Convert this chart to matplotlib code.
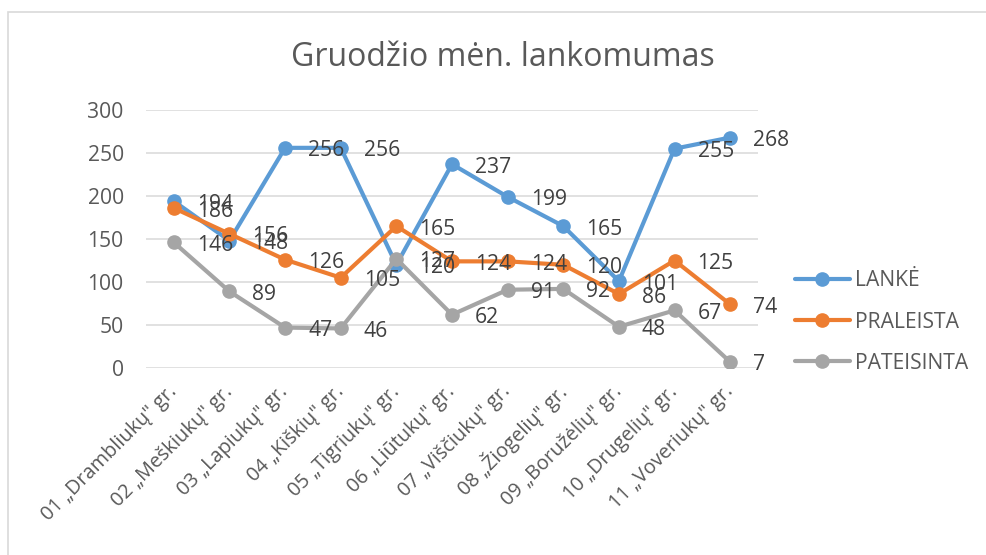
import matplotlib
matplotlib.use("Agg")
import matplotlib.pyplot as plt
from matplotlib.patches import Rectangle

categories = ['01 „Drambliukų" gr.', '02 „Meškiukų" gr.', '03 „Lapiukų" gr.',
              '04 „Kiškių" gr.', '05 „Tigriukų" gr.', '06 „Liūtukų" gr.',
              '07 „Viščiukų" gr.', '08 „Žiogelių" gr.', '09 „Boružėlių" gr.',
              '10 „Drugelių" gr.', '11 „Voveriukų" gr.']
lanke = [194, 148, 256, 256, 120, 237, 199, 165, 101, 255, 268]
praleista = [186, 156, 126, 105, 165, 124, 124, 120, 86, 125, 74]
pateisinta = [146, 89, 47, 46, 127, 62, 91, 92, 48, 67, 7]
series_names = ['LANKĖ', 'PRALEISTA', 'PATEISINTA']
colors = ['#5B9BD5', '#ED7D31', '#A5A5A5']
yticks = [0, 50, 100, 150, 200, 250, 300]
title = 'Gruodžio mėn. lankomumas'

plt.rcParams['font.family'] = ['Open Sans', 'DejaVu Sans']

W, H = 987, 555
FS = 15.2
fig = plt.figure(figsize=(W / 100, H / 100), dpi=100)
fig.patch.set_facecolor('white')

# chart border (right and bottom edges lie outside the picture)
fig.add_artist(Rectangle((8 / W, -10 / H), (W + 20) / W, (H - 12 + 10) / H,
                         transform=fig.transFigure, fill=False,
                         edgecolor='#D9D9D9', linewidth=1.2))

ax = fig.add_axes([146 / W, 1 - 368 / H, (758 - 146) / W, (368 - 110) / H])
x = list(range(len(categories)))

for vals, name, c in zip([lanke, praleista, pateisinta], series_names, colors):
    ax.plot(x, vals, color=c, linewidth=3, marker='o', markersize=9.5,
            label=name, solid_capstyle='round', zorder=3)

for vals in [lanke, praleista, pateisinta]:
    for xi, v in zip(x, vals):
        ax.annotate(str(v), (xi, v), xytext=(23, -3), textcoords='offset pixels',
                    ha='left', va='center', fontsize=FS, color='#404040',
                    zorder=5)

ax.set_xlim(-0.5, len(categories) - 0.5)
ax.set_ylim(0, 300)
ax.set_yticks(yticks)
ax.set_yticklabels([str(t) for t in yticks])
ax.grid(axis='y', color='#D9D9D9', linewidth=1.1)
ax.set_axisbelow(True)
for s in ax.spines.values():
    s.set_visible(False)
ax.tick_params(axis='both', length=0, labelsize=FS, labelcolor='#595959')
ax.tick_params(axis='y', pad=16)
ax.set_xticks(x)
ax.set_xticklabels(categories, rotation=45, ha='right', rotation_mode='anchor',
                   va='center', fontsize=14.3)
ax.tick_params(axis='x', pad=15)

fig.text(503 / W, 1 - 57 / H, title, ha='center', va='center', fontsize=23,
         color='#595959')

leg = ax.legend(loc='center left', bbox_to_anchor=(795 / W, 1 - 322 / H),
                bbox_transform=fig.transFigure, frameon=False, fontsize=FS,
                handlelength=2.6, handletextpad=0.25, labelspacing=0.95,
                borderaxespad=0, borderpad=0)
for t in leg.get_texts():
    t.set_color('#595959')

fig.savefig('out.png', dpi=100)
